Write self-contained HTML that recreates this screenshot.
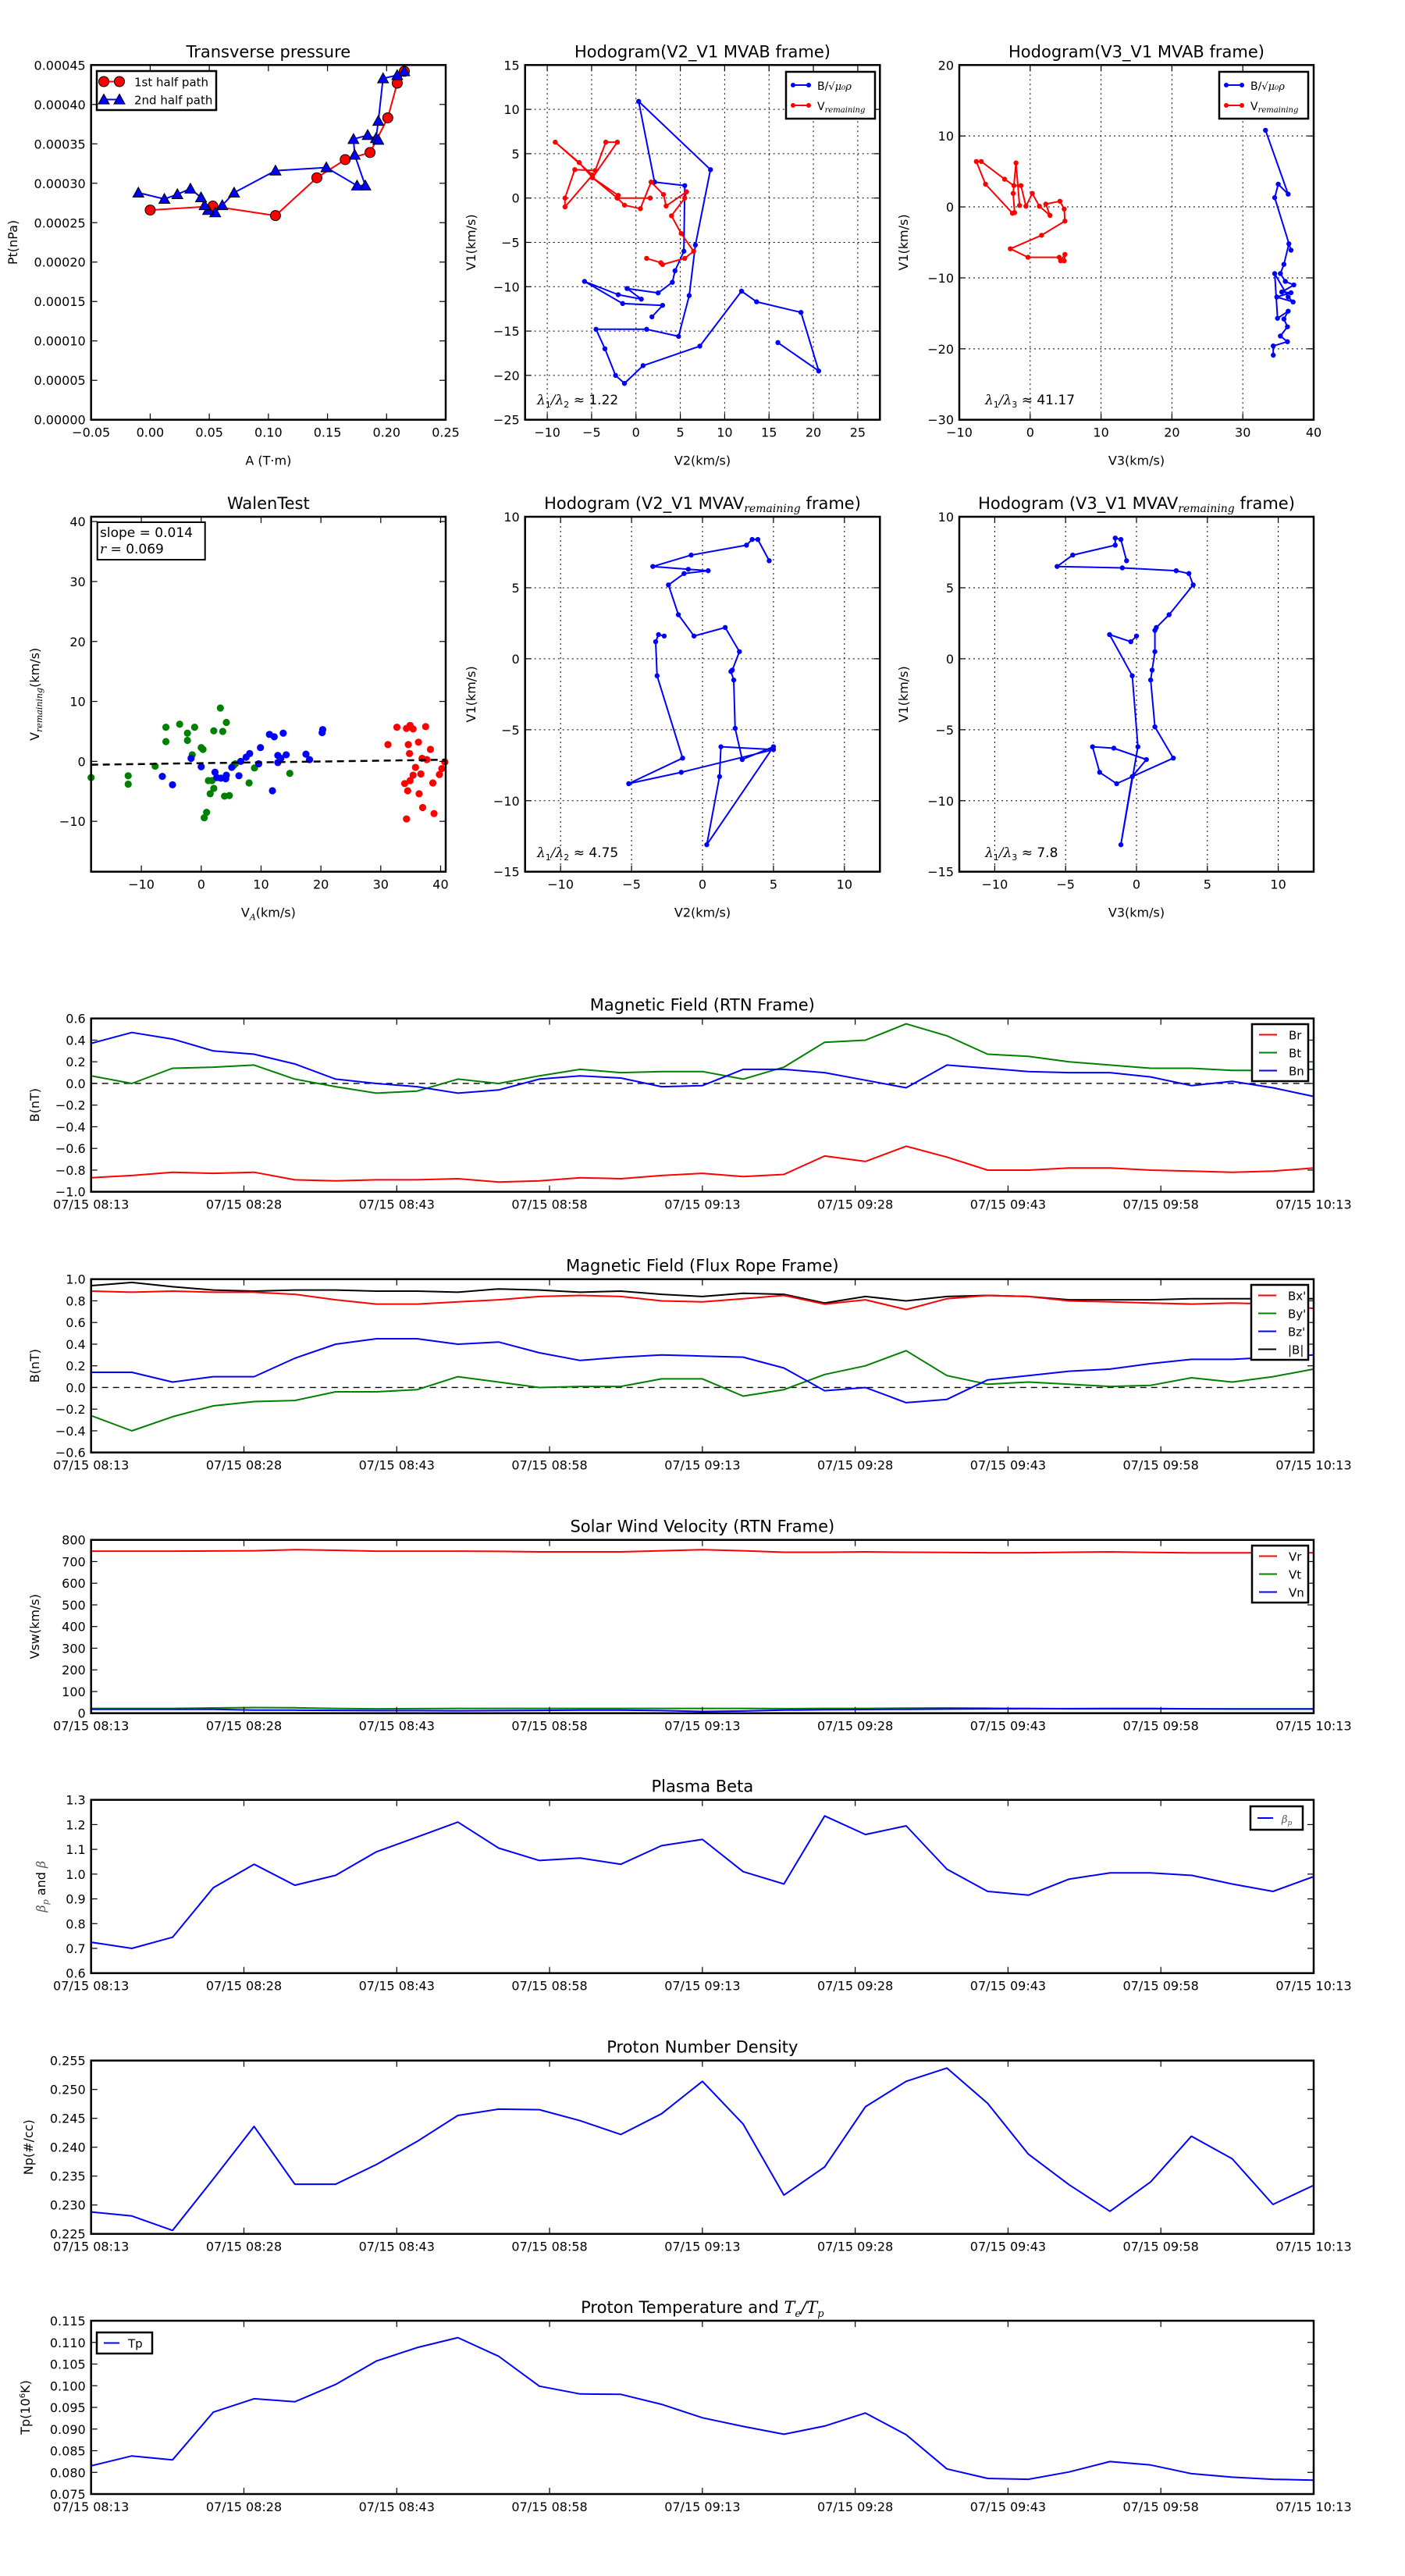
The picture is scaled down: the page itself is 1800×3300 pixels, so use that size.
<!DOCTYPE html>
<html><head><meta charset="utf-8">
<style>
html,body{margin:0;padding:0;background:#fff;}
svg{display:block;font-family:"DejaVu Sans","Liberation Sans",sans-serif;}
</style></head>
<body>
<svg id="fig" xmlns="http://www.w3.org/2000/svg" width="1800" height="3300" viewBox="0 0 1800 3300"></svg>
<script>
// ---------- DATA ----------
const ptRedA = [0.000,0.053,0.106,0.141,0.165,0.186,0.201,0.209,0.215];
const ptRedP = [0.000266,0.000271,0.000259,0.000307,0.000330,0.000339,0.000383,0.000427,0.000442];
const ptBlueA = [0.215,0.209,0.197,0.193,0.191,0.193,0.184,0.172,0.173,0.182,0.175,0.149,0.106,0.071,0.061,0.055,0.049,0.046,0.043,0.034,0.023,0.012,-0.010];
const ptBlueP = [0.000442,0.000437,0.000433,0.000379,0.000357,0.000355,0.000361,0.000356,0.000336,0.000297,0.000297,0.000320,0.000316,0.000288,0.000272,0.000263,0.000266,0.000272,0.000282,0.000293,0.000286,0.000280,0.000288];

const h2BlueX = [16,20.6,18.6,13.6,11.9,7.2,0.8,-1.3,-2.3,-3.5,-4.5,1.2,4.8,6,6.7,8.4,0.3,2.1,5.5,5.4,4.4,4.1,2.5,-1,0.6,-2,-5.8,-1.5,3,1.8];
const h2BlueY = [-16.3,-19.5,-12.9,-11.7,-10.5,-16.7,-18.9,-20.9,-20,-17,-14.8,-14.8,-15.6,-11,-5.3,3.2,10.9,1.8,1.4,-6,-8.2,-9.5,-10.7,-10.2,-11.4,-10.9,-9.4,-11.9,-12.1,-13.4];
const h2RedX = [1.2,2.8,3,5.5,6.5,5.1,4,5.5,5.7,3.4,3.1,1.7,0.5,-1.3,-2.1,-2,-4.9,-6.4,-9.1,-4.9,-8,-8,-6.9,-4.6,-3.4,-2.1,-4.9,-2.1,1.6];
const h2RedY = [-6.8,-7.3,-7.5,-6.8,-6,-4,-2,0,0.7,-0.9,0.4,1.8,-1.2,-0.8,0,0.3,2.3,4,6.3,2.6,-1,0,3.2,3.1,6.3,6.3,2.3,0,0];

const h3BlueX = [33.2,36.4,35,34.5,36.8,36.5,35.8,35.3,36,37.2,35.5,36.8,34.8,37.1,36.4,34.5,34.9,36.4,35.8,36.3,35.3,36.3,34.3,34.3];
const h3BlueY = [10.8,1.8,3.2,1.3,-6.1,-5.2,-8.1,-9.4,-10.5,-11,-12,-12.1,-12.7,-13.4,-12.7,-9.4,-15.7,-14.7,-15.8,-16.9,-18.2,-19,-19.6,-20.9];
const h3RedX = [4.3,4.9,4.8,4.1,-0.3,-2.8,1.6,4.9,4.8,4.2,2.2,2.8,1.3,0.3,-0.6,-1.3,-2.3,-3.6,-6.9,-7.6,-6.3,-2.5,-2.2,-2.4,-2,-1.5];
const h3RedY = [-7.6,-6.7,-7.6,-7.1,-7.1,-5.9,-4,-2,-0.3,0.8,0.4,-1.2,0.1,1.9,0.1,3,3,3.9,6.4,6.4,3.2,-0.9,-0.8,1.9,6.2,0.2];

const h4X = [4.7,3.9,3.5,3.1,-0.8,-3.5,-1,0.4,-1.3,-2.4,-1.7,-0.6,1.6,2.6,2.1,2,2.2,2.3,2.8,5,0.3,1.2,1.3,5,-1.5,-5.2,-1.4,-3.2,-3.3,-3.1,-2.7];
const h4Y = [6.9,8.4,8.4,8,7.3,6.5,6.3,6.2,6,5.2,3.1,1.6,2.2,0.5,-0.8,-0.9,-1.5,-4.9,-7.1,-6.2,-13.1,-8.3,-6.2,-6.4,-8,-8.8,-7,-1.2,1.2,1.7,1.6];
const h5X = [-0.7,-1.1,-1.5,-1.5,-4.5,-5.6,-1,2.8,3.7,4,2.3,1.4,1.3,1.3,1.1,1,1.3,2.6,-1.4,-2.6,-3.1,-1.6,0.7,-0.3,-1.1,0.1,-0.3,-1.9,-0.4,0];
const h5Y = [6.9,8.4,8.5,8,7.3,6.5,6.4,6.2,6,5.2,3.1,2.2,2,0.5,-0.8,-1.5,-4.8,-7,-8.8,-8,-6.2,-6.3,-7.1,-8.3,-13.1,-6.2,-1.2,1.7,1.2,1.6];

const walGreenX = [-18.4,-12.2,-12.2,-7.7,-5.9,-5.9,-3.6,-2.3,-2.3,-1.1,-1.5,0,0.3,1.2,1.8,2.1,3.2,3.6,4.2,0.9,0.5,1.5,2.1,3.9,4.7,5.7,8,8.9,14.8,5.4];
const walGreenY = [-2.7,-2.4,-3.8,-0.8,5.7,3.3,6.2,4.7,3.5,5.7,1.1,2.3,2,-3.2,-3.2,5.1,8.9,5,6.5,-8.5,-9.4,-5.4,-4.5,-5.8,-5.7,-0.4,-3.6,-1.1,-2,-0.7];
const walBlueX = [-6.5,-4.8,-1.7,0,2.3,2.6,3.3,4.1,5.1,6.3,6.6,7.5,8.1,9.9,11.4,11.9,12.2,12.8,13.3,13.7,14.2,12.8,17.5,18.1,20.2,20.3,4.2,9.6];
const walBlueY = [-2.5,-3.9,0.5,-0.9,-1.8,-2.7,-2.8,-2.9,-1,-2.4,0,0.7,1.3,2.3,4.5,-4.9,4.1,1,0.5,4.7,1.1,-0.2,1.2,0.3,4.8,5.3,-2.3,-0.4];
const walRedX = [31.2,32.7,34.3,34.9,35.4,36.3,37.5,38.3,34.6,34.8,35.8,36.9,37.7,39.8,40.2,40.7,34,34.9,34.5,35.4,36.4,38.7,37,38.9,34.3,36.7];
const walRedY = [2.8,5.7,5.5,6,5.4,3.2,5.8,2,2.8,1.3,-1,0.5,0.3,-2.2,-1.2,-0.1,-3.7,-3.2,-4.9,-2.3,-5.4,-3.6,-7.7,-8.7,-9.6,-2.1];
const walSlope = 0.014, walIntercept = -0.3;

const timeTicks = ["07/15 08:13","07/15 08:28","07/15 08:43","07/15 08:58","07/15 09:13","07/15 09:28","07/15 09:43","07/15 09:58","07/15 10:13"];
const tMinutes = Array.from({length:31},(_, i)=>i*4);

const Br = [-0.87,-0.85,-0.82,-0.83,-0.82,-0.89,-0.90,-0.89,-0.89,-0.88,-0.91,-0.90,-0.87,-0.88,-0.85,-0.83,-0.86,-0.84,-0.67,-0.72,-0.58,-0.68,-0.80,-0.80,-0.78,-0.78,-0.80,-0.81,-0.82,-0.81,-0.78];
const Bt = [0.07,0.00,0.14,0.15,0.17,0.04,-0.03,-0.09,-0.07,0.04,0.00,0.07,0.13,0.10,0.11,0.11,0.04,0.15,0.38,0.40,0.55,0.44,0.27,0.25,0.20,0.17,0.14,0.14,0.12,0.12,0.13];
const Bn = [0.37,0.47,0.41,0.30,0.27,0.18,0.04,0.00,-0.03,-0.09,-0.06,0.04,0.07,0.05,-0.03,-0.02,0.13,0.13,0.10,0.03,-0.04,0.17,0.14,0.11,0.10,0.10,0.06,-0.02,0.02,-0.04,-0.12];

const Bxp = [0.89,0.88,0.89,0.88,0.88,0.86,0.81,0.77,0.77,0.79,0.81,0.84,0.85,0.84,0.80,0.79,0.82,0.85,0.77,0.81,0.72,0.82,0.85,0.84,0.80,0.79,0.78,0.77,0.78,0.77,0.73];
const Byp = [-0.26,-0.40,-0.27,-0.17,-0.13,-0.12,-0.04,-0.04,-0.02,0.10,0.05,0.00,0.01,0.01,0.08,0.08,-0.08,-0.02,0.12,0.20,0.34,0.11,0.03,0.05,0.03,0.01,0.02,0.09,0.05,0.10,0.17];
const Bzp = [0.14,0.14,0.05,0.10,0.10,0.27,0.40,0.45,0.45,0.40,0.42,0.32,0.25,0.28,0.30,0.29,0.28,0.18,-0.03,0.00,-0.14,-0.11,0.07,0.11,0.15,0.17,0.22,0.26,0.26,0.28,0.30];
const Bmag = [0.94,0.97,0.93,0.90,0.89,0.90,0.90,0.89,0.89,0.88,0.91,0.90,0.88,0.89,0.86,0.84,0.87,0.86,0.78,0.84,0.80,0.84,0.85,0.84,0.81,0.81,0.81,0.82,0.82,0.82,0.82];

const Vr = [748,748,748,749,750,755,752,748,748,748,747,745,745,745,750,755,750,743,743,745,743,742,741,741,743,745,742,740,740,740,740];
const Vt = [22,22,22,24,26,25,22,20,21,22,22,22,22,22,22,22,22,21,22,22,23,24,23,22,20,20,20,20,20,20,20];
const Vn = [18,18,18,18,14,14,13,12,12,11,12,13,14,14,12,8,10,14,16,17,18,19,20,21,21,22,22,20,19,19,19];

const beta = [0.725,0.70,0.745,0.945,1.04,0.955,0.995,1.09,1.15,1.21,1.105,1.055,1.065,1.04,1.115,1.14,1.01,0.96,1.235,1.16,1.195,1.02,0.93,0.915,0.98,1.005,1.005,0.995,0.96,0.93,0.99];
const Np = [0.2288,0.2281,0.2256,0.2345,0.2436,0.2336,0.2336,0.2370,0.2410,0.2455,0.2466,0.2465,0.2446,0.2422,0.2458,0.2514,0.2440,0.2317,0.2366,0.2470,0.2514,0.2537,0.2476,0.2388,0.2335,0.2289,0.2340,0.2419,0.2380,0.2301,0.2334];
const Tp = [0.0815,0.0838,0.0829,0.0939,0.0970,0.0963,0.1003,0.1057,0.1088,0.1111,0.1068,0.0999,0.0981,0.0980,0.0957,0.0926,0.0906,0.0888,0.0907,0.0937,0.0887,0.0808,0.0786,0.0784,0.0801,0.0825,0.0817,0.0797,0.0789,0.0784,0.0782];

// ---------- HELPERS ----------
const NS="http://www.w3.org/2000/svg";
const fig=document.getElementById('fig');
function mk(tag,attrs,parent){const e=document.createElementNS(NS,tag);for(const k in attrs)e.setAttribute(k,attrs[k]);(parent||fig).appendChild(e);return e;}
function fmt(v,d){const s=Math.abs(v).toFixed(d);return (v<-1e-12?"\u2212":"")+s;}
function ticksRange(a,b,step){const r=[];for(let v=a;v<=b+step*1e-6;v+=step)r.push(Math.round(v/step)*step);return r;}

function axes(name,box,xr,yr,opt){
  const g=mk('g',{});
  
  
  const sx=v=>box.x0+(v-xr[0])/(xr[1]-xr[0])*(box.x1-box.x0);
  const sy=v=>box.y1-(v-yr[0])/(yr[1]-yr[0])*(box.y1-box.y0);
  const ax={g,sx,sy,box};
  // grid
  if(opt.grid){
    opt.xt.forEach(v=>{const x=sx(v);if(x>box.x0+1&&x<box.x1-1){const l=mk('line',{x1:x,x2:x,y1:box.y0,y2:box.y1,stroke:'#000','stroke-width':1,'stroke-dasharray':'2,4'},g);}});
    opt.yt.forEach(v=>{const y=sy(v);if(y>box.y0+1&&y<box.y1-1){const l=mk('line',{x1:box.x0,x2:box.x1,y1:y,y2:y,stroke:'#000','stroke-width':1,'stroke-dasharray':'2,4'},g);}});
  }
  const plot=mk('g',{},g);
  
  
  ax.plot=plot;
  // ticks
  const tg=mk('g',{},g);
  
  
  const tl=8, fs=opt.fs||16;
  opt.xt.forEach((v,i)=>{const x=sx(v);
    mk('line',{x1:x,x2:x,y1:box.y1,y2:box.y1-tl,stroke:'#000','stroke-width':1.2},tg);
    mk('line',{x1:x,x2:x,y1:box.y0,y2:box.y0+tl,stroke:'#000','stroke-width':1.2},tg);
    const t=mk('text',{x:x,y:box.y1+22,'font-size':fs,'text-anchor':'middle'},tg);
    t.textContent=opt.xl?opt.xl[i]:fmt(v,opt.xd||0);
    
    
  });
  opt.yt.forEach(v=>{const y=sy(v);
    mk('line',{x1:box.x0,x2:box.x0+tl,y1:y,y2:y,stroke:'#000','stroke-width':1.2},tg);
    mk('line',{x1:box.x1,x2:box.x1-tl,y1:y,y2:y,stroke:'#000','stroke-width':1.2},tg);
    const t=mk('text',{x:box.x0-7,y:y+6,'font-size':fs,'text-anchor':'end'},tg);
    t.textContent=fmt(v,opt.yd||0);
    
    
  });
  const fr=mk('rect',{x:box.x0,y:box.y0,width:box.x1-box.x0,height:box.y1-box.y0,fill:'none',stroke:'#000','stroke-width':2.5},g);
  
  
  // title
  if(opt.title){const t=mk('text',{x:(box.x0+box.x1)/2,y:box.y0-10,'font-size':opt.tfs||21,'text-anchor':'middle'},g);
    t.innerHTML=opt.title;
    
    }
  if(opt.xlabel){const t=mk('text',{x:(box.x0+box.x1)/2,y:box.y1+58,'font-size':16,'text-anchor':'middle'},g);
    t.innerHTML=opt.xlabel;
    
    }
  if(opt.ylabel){const cy=(box.y0+box.y1)/2;const t=mk('text',{x:opt.ylx,y:cy,'font-size':16,'text-anchor':'middle',transform:`rotate(-90 ${opt.ylx} ${cy})`},g);
    t.innerHTML=opt.ylabel;
    
    }
  return ax;
}
function series(ax,xs,ys,color,name,marker,r){
  const g=mk('g',{},ax.plot);
  
  
  const pts=xs.map((x,i)=>ax.sx(x).toFixed(1)+','+ax.sy(ys[i]).toFixed(1)).join(' ');
  mk('polyline',{points:pts,fill:'none',stroke:color,'stroke-width':2,'stroke-linejoin':'round'},g);
  xs.forEach((x,i)=>{const cx=ax.sx(x),cy=ax.sy(ys[i]);
    if(marker==='o'){const c=mk('circle',{cx:cx,cy:cy,r:r,fill:color,stroke:r>5?'#000':'none','stroke-width':1},g);}
    else if(marker==='^'){const p=mk('polygon',{points:`${cx},${cy-r} ${cx-r},${cy+r*0.8} ${cx+r},${cy+r*0.8}`,fill:color,stroke:'#000','stroke-width':1},g);}
  });
  return g;
}
function scatter(ax,xs,ys,color,name,r){
  const g=mk('g',{},ax.plot);
  
  
  xs.forEach((x,i)=>{const c=mk('circle',{cx:ax.sx(x),cy:ax.sy(ys[i]),r:r,fill:color},g);
    
    });
}
function legend(x,y,w,entries,opts){
  const g=mk('g',{});
  
  
  const rh=opts.rh||23, h=entries.length*rh+opts.pad*2-4;
  mk('rect',{x:x,y:y,width:w,height:h,fill:'#fff',stroke:'#000','stroke-width':2.5},g);
  entries.forEach((e,i)=>{const cy=y+opts.pad+rh*i+rh/2-2;
    const eg=mk('g',{},g);
    
    
    mk('line',{x1:x+9,x2:x+9+opts.ll,y1:cy,y2:cy,stroke:e.c,'stroke-width':2},eg);
    if(e.m==='o'){mk('circle',{cx:x+9,cy:cy,r:e.r,fill:e.c,stroke:e.r>5?'#000':'none'},eg);mk('circle',{cx:x+9+opts.ll,cy:cy,r:e.r,fill:e.c,stroke:e.r>5?'#000':'none'},eg);}
    if(e.m==='^'){[x+9,x+9+opts.ll].forEach(px=>mk('polygon',{points:`${px},${cy-e.r} ${px-e.r},${cy+e.r*0.8} ${px+e.r},${cy+e.r*0.8}`,fill:e.c,stroke:'#000'},eg));}
    const t=mk('text',{x:x+opts.tx,y:cy+6,'font-size':opts.fs||15},eg);
    t.innerHTML=e.t;
  });
}
const M='font-family="DejaVu Serif, Liberation Serif, serif" font-style="italic"';

// ---------- PANEL 1: Transverse pressure ----------
const a1=axes('transverse-pressure-chart',{x0:116.7,x1:571,y0:83.3,y1:537.7},[-0.05,0.25],[0,0.00045],
 {xt:ticksRange(-0.05,0.25,0.05),yt:ticksRange(0,0.00045,0.00005),xd:2,yd:5,title:'Transverse pressure',xlabel:'A (T·m)',ylabel:'Pt(nPa)',ylx:22});
series(a1,ptRedA,ptRedP,'#ff0000','first-half-path','o',6.5);
series(a1,ptBlueA,ptBlueP,'#0000ff','second-half-path','^',7);
legend(124,91,153,[{t:'1st half path',c:'#ff0000',m:'o',r:6.5},{t:'2nd half path',c:'#0000ff',m:'^',r:7}],{pad:4,ll:20,tx:48,fs:15,rh:23});

// ---------- PANEL 2 ----------
const a2=axes('hodogram-v2-v1-mvab',{x0:672.7,x1:1127.3,y0:83.3,y1:537.7},[-12.5,27.5],[-25,15],
 {grid:true,xt:ticksRange(-10,25,5),yt:ticksRange(-25,15,5),title:'Hodogram(V2_V1 MVAB frame)',xlabel:'V2(km/s)',ylabel:'V1(km/s)',ylx:609});
series(a2,h2BlueX,h2BlueY,'#0000ff','b-alfven-series','o',3.2);
series(a2,h2RedX,h2RedY,'#ff0000','v-remaining-series','o',3.2);
legend(1007,92,114,[{t:`B/<tspan ${M} font-size="13">√μ₀ρ</tspan>`,c:'#0000ff',m:'o',r:3},{t:`V<tspan ${M} font-size="10" dy="3">remaining</tspan>`,c:'#ff0000',m:'o',r:3}],{pad:6,ll:20,tx:40,fs:14,rh:26});
{const t=mk('text',{x:688,y:518,'font-size':17});t.innerHTML=`<tspan ${M}>λ</tspan><tspan font-size="11" dy="4">1</tspan><tspan dy="-4" ${M}>/λ</tspan><tspan font-size="11" dy="4">2</tspan><tspan dy="-4"> ≈ 1.22</tspan>`;}

// ---------- PANEL 3 ----------
const a3=axes('hodogram-v3-v1-mvab',{x0:1229,x1:1683,y0:83.3,y1:537.7},[-10,40],[-30,20],
 {grid:true,xt:ticksRange(-10,40,10),yt:ticksRange(-30,20,10),title:'Hodogram(V3_V1 MVAB frame)',xlabel:'V3(km/s)',ylabel:'V1(km/s)',ylx:1163});
series(a3,h3BlueX,h3BlueY,'#0000ff','b-alfven-series','o',3.2);
series(a3,h3RedX,h3RedY,'#ff0000','v-remaining-series','o',3.2);
legend(1562,92,114,[{t:`B/<tspan ${M} font-size="13">√μ₀ρ</tspan>`,c:'#0000ff',m:'o',r:3},{t:`V<tspan ${M} font-size="10" dy="3">remaining</tspan>`,c:'#ff0000',m:'o',r:3}],{pad:6,ll:20,tx:40,fs:14,rh:26});
{const t=mk('text',{x:1262,y:518,'font-size':17});t.innerHTML=`<tspan ${M}>λ</tspan><tspan font-size="11" dy="4">1</tspan><tspan dy="-4" ${M}>/λ</tspan><tspan font-size="11" dy="4">3</tspan><tspan dy="-4"> ≈ 41.17</tspan>`;}

// ---------- WALEN ----------
const a4=axes('walen-test-chart',{x0:116.7,x1:571,y0:662,y1:1116.7},[-18.4,40.85],[-18.4,40.8],
 {xt:ticksRange(-10,40,10),yt:ticksRange(-10,40,10),title:'WalenTest',xlabel:`V<tspan ${M} font-size="11" dy="4">A</tspan><tspan dy="-4">(km/s)</tspan>`,ylabel:`V<tspan ${M} font-size="11" dy="4">remaining</tspan><tspan dy="-4">(km/s)</tspan>`,ylx:50});
scatter(a4,walGreenX,walGreenY,'#008000','walen-green-points',4.6);
scatter(a4,walBlueX,walBlueY,'#0000ff','walen-blue-points',4.6);
scatter(a4,walRedX,walRedY,'#ff0000','walen-red-points',4.6);
{const xa=-18.4,xb=40.85;const l=mk('line',{x1:a4.sx(xa),y1:a4.sy(walSlope*xa+walIntercept),x2:a4.sx(xb),y2:a4.sy(walSlope*xb+walIntercept),stroke:'#000','stroke-width':2.5,'stroke-dasharray':'9,6'},a4.plot);}
{const g=mk('g',{});
 mk('rect',{x:124.7,y:669,width:138,height:48,fill:'#fff',stroke:'#000','stroke-width':2},g);
 const t1=mk('text',{x:128,y:688,'font-size':17},g);t1.textContent='slope = 0.014';
 const t2=mk('text',{x:128,y:709,'font-size':17},g);t2.innerHTML=`<tspan ${M}>r</tspan> = 0.069`;}

// ---------- PANEL 5/6 ----------
const a5=axes('hodogram-v2-v1-mvav',{x0:672.7,x1:1127.3,y0:662,y1:1116.7},[-12.5,12.5],[-15,10],
 {grid:true,xt:ticksRange(-10,10,5),yt:ticksRange(-15,10,5),title:`Hodogram (V2_V1 MVAV<tspan ${M} font-size="14" dy="4">remaining</tspan><tspan dy="-4"> frame)</tspan>`,xlabel:'V2(km/s)',ylabel:'V1(km/s)',ylx:609});
series(a5,h4X,h4Y,'#0000ff','mvav-v2-series','o',3.2);
{const t=mk('text',{x:688,y:1098,'font-size':17});t.innerHTML=`<tspan ${M}>λ</tspan><tspan font-size="11" dy="4">1</tspan><tspan dy="-4" ${M}>/λ</tspan><tspan font-size="11" dy="4">2</tspan><tspan dy="-4"> ≈ 4.75</tspan>`;}
const a6=axes('hodogram-v3-v1-mvav',{x0:1229,x1:1683,y0:662,y1:1116.7},[-12.5,12.5],[-15,10],
 {grid:true,xt:ticksRange(-10,10,5),yt:ticksRange(-15,10,5),title:`Hodogram (V3_V1 MVAV<tspan ${M} font-size="14" dy="4">remaining</tspan><tspan dy="-4"> frame)</tspan>`,xlabel:'V3(km/s)',ylabel:'V1(km/s)',ylx:1163});
series(a6,h5X,h5Y,'#0000ff','mvav-v3-series','o',3.2);
{const t=mk('text',{x:1262,y:1098,'font-size':17});t.innerHTML=`<tspan ${M}>λ</tspan><tspan font-size="11" dy="4">1</tspan><tspan dy="-4" ${M}>/λ</tspan><tspan font-size="11" dy="4">3</tspan><tspan dy="-4"> ≈ 7.8</tspan>`;}

// ---------- TIME SERIES ----------
const tx0=116.7, tx1=1683;
function tsAxes(name,y0,yr,step,yd,title,ylabel,ylx){
  return axes(name,{x0:tx0,x1:tx1,y0:y0,y1:y0+222},[0,120],yr,
   {xt:ticksRange(0,120,15),xl:timeTicks,yt:ticksRange(yr[0],yr[1],step),yd:yd,title:title,ylabel:ylabel,ylx:ylx,tfs:21});
}
function zeroLine(ax){const l=mk('line',{x1:tx0,x2:tx1,y1:ax.sy(0),y2:ax.sy(0),stroke:'#000','stroke-width':1.3,'stroke-dasharray':'8,6'},ax.plot);}

const t1=tsAxes('magnetic-field-rtn-chart',1304.7,[-1.0,0.6],0.2,1,'Magnetic Field (RTN Frame)','B(nT)',50);
zeroLine(t1);
series(t1,tMinutes,Br,'#ff0000','br-line');
series(t1,tMinutes,Bt,'#008000','bt-line');
series(t1,tMinutes,Bn,'#0000ff','bn-line');
legend(1604,1312,72,[{t:'Br',c:'#ff0000'},{t:'Bt',c:'#008000'},{t:'Bn',c:'#0000ff'}],{pad:4,ll:23,tx:47,fs:15,rh:23});

const t2=tsAxes('magnetic-field-flux-rope-chart',1638.7,[-0.6,1.0],0.2,1,'Magnetic Field (Flux Rope Frame)','B(nT)',50);
zeroLine(t2);
series(t2,tMinutes,Bmag,'#000000','bmag-line');
series(t2,tMinutes,Bxp,'#ff0000','bx-prime-line');
series(t2,tMinutes,Byp,'#008000','by-prime-line');
series(t2,tMinutes,Bzp,'#0000ff','bz-prime-line');
legend(1603,1646,73,[{t:"Bx'",c:'#ff0000'},{t:"By'",c:'#008000'},{t:"Bz'",c:'#0000ff'},{t:'|B|',c:'#000000'}],{pad:4,ll:23,tx:47,fs:15,rh:23});

const t3=tsAxes('solar-wind-velocity-chart',1972.7,[0,800],100,0,'Solar Wind Velocity (RTN Frame)','Vsw(km/s)',50);
series(t3,tMinutes,Vr,'#ff0000','vr-line');
series(t3,tMinutes,Vt,'#008000','vt-line');
series(t3,tMinutes,Vn,'#0000ff','vn-line');
legend(1604,1980,72,[{t:'Vr',c:'#ff0000'},{t:'Vt',c:'#008000'},{t:'Vn',c:'#0000ff'}],{pad:4,ll:23,tx:47,fs:15,rh:23});

const t4=tsAxes('plasma-beta-chart',2305.7,[0.6,1.3],0.1,1,'Plasma Beta',`<tspan ${M} fill="#555">β</tspan><tspan ${M} font-size="11" dy="4" fill="#555">p</tspan><tspan dy="-4"> and </tspan><tspan ${M} fill="#555">β</tspan>`,58);
series(t4,tMinutes,beta,'#0000ff','beta-line');
legend(1602,2314,67,[{t:`<tspan ${M} fill="#555" font-size="13">β</tspan><tspan ${M} fill="#555" font-size="9" dy="3">p</tspan>`,c:'#0000ff'}],{pad:4,ll:20,tx:40,fs:14,rh:26});

const t5=tsAxes('proton-density-chart',2639.7,[0.225,0.255],0.005,3,'Proton Number Density','Np(#/cc)',42);
series(t5,tMinutes,Np,'#0000ff','density-line');

const t6=tsAxes('proton-temperature-chart',2973,[0.075,0.115],0.005,3,`Proton Temperature and <tspan ${M}>T</tspan><tspan ${M} font-size="13" dy="5">e</tspan><tspan ${M} dy="-5">/T</tspan><tspan ${M} font-size="13" dy="5">p</tspan>`,`Tp(10<tspan font-size="10" dy="-6">6</tspan><tspan dy="6">K)</tspan>`,38);
series(t6,tMinutes,Tp,'#0000ff','temperature-line');
legend(124,2988,71,[{t:'Tp',c:'#0000ff'}],{pad:4,ll:20,tx:40,fs:15,rh:23});
</script>
</body></html>
